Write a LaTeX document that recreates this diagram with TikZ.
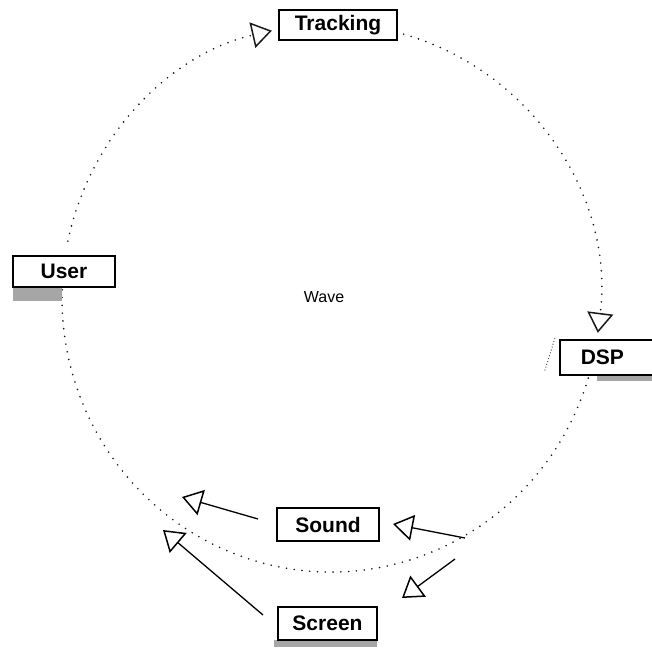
\documentclass[tikz,border=0pt]{standalone}
\usepackage{fontspec}
\setmainfont{Liberation Sans}
\usetikzlibrary{arrows.meta,calc}
\begin{document}
\begin{tikzpicture}[x=1pt,y=1pt,
  box/.style={draw, line width=1.5pt, fill=white, inner sep=0pt,
    font=\bfseries\fontsize{21}{21}\selectfont},
  wavedots/.style={line width=1.8pt, line cap=round, dash pattern=on 0pt off 7.8pt, black!90},
  openhead/.style={-{Triangle[open, length=20pt, width=26pt, line width=1.5pt]}},
  solidarrow/.style={line width=1.3pt, openhead},
  shade/.style={fill=black!35, draw=none}]
\useasboundingbox (0,0) rectangle (652,-647);
\clip (0,0) rectangle (652,-647);

% the wave circle
\coordinate (C) at (331,-298);
\coordinate (w1) at ($(C)+(168:269pt and 274pt)$);
\coordinate (w2) at ($(C)+(76:269pt and 274pt)$);
\coordinate (w3) at ($(C)+(-17:269pt and 274pt)$);
\draw[wavedots, openhead] (w1) arc[start angle=168, end angle=102.7, x radius=269pt, y radius=274pt];
\draw[wavedots, openhead] (w2) arc[start angle=76, end angle=-7.3, x radius=269pt, y radius=274pt];
\draw[wavedots] (w3) arc[start angle=-17, end angle=-182, x radius=269pt, y radius=274pt];
\draw[line width=1.2pt, line cap=round, dash pattern=on 0pt off 3pt, black!80] (545,-370) -- (555,-338);

% drop shadows
\fill[shade] (13,-288) rectangle (62,-301);
\fill[shade] (597,-375) rectangle (652,-381);
\fill[shade] (274,-640) rectangle (377,-647);

% boxes
\node[box, minimum width=118pt, minimum height=30pt] (track) at (338,-25) {Tracking};
\node[box, minimum width=102pt, minimum height=31pt] (user) at (64,-271.5) {User};
\node[box, anchor=west, minimum height=35pt] (dsp) at (559,-357.5) {\hspace*{21pt}DSP\hspace*{40pt}};
\node[box, minimum width=102pt, minimum height=33pt] (sound) at (328,-524.5) {Sound};
\node[box, minimum width=99pt, minimum height=33pt] (screen) at (327.5,-623.5) {Screen};
\node[font=\fontsize{16}{16}\selectfont] (wave) at (324,-297) {Wave};

% output arrows
\coordinate (a1) at (465,-538); \coordinate (a1t) at (393,-524);
\coordinate (a2) at (455,-559); \coordinate (a2t) at (402,-598);
\coordinate (a3) at (258,-519); \coordinate (a3t) at (182,-497);
\coordinate (a4) at (263,-615); \coordinate (a4t) at (163,-530);
\draw[solidarrow] (a1) -- (a1t);
\draw[solidarrow] (a2) -- (a2t);
\draw[solidarrow] (a3) -- (a3t);
\draw[solidarrow] (a4) -- (a4t);
\end{tikzpicture}
\end{document}
